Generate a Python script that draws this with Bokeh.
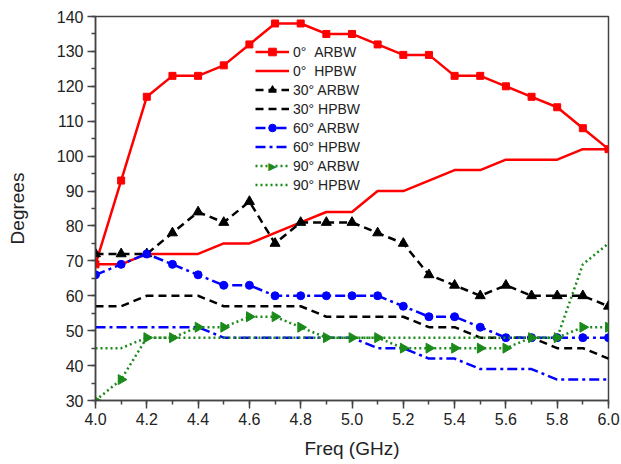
import math
from bokeh.plotting import figure
from bokeh.models import (SingleIntervalTicker, PrintfTickFormatter, Legend, LegendItem,
                          Range1d, Label)
from bokeh.embed import file_html
from bokeh.resources import INLINE

freq = [4.0, 4.1, 4.2, 4.3, 4.4, 4.5, 4.6, 4.7, 4.8, 4.9, 5.0,
        5.1, 5.2, 5.3, 5.4, 5.5, 5.6, 5.7, 5.8, 5.9, 6.0]

arbw_0 = [69, 93, 117, 123, 123, 126, 132, 138, 138, 135, 135, 132, 129, 129, 123, 123, 120, 117, 114, 108, 102]
hpbw_0 = [69, 69, 72, 72, 72, 75, 75, 78, 81, 84, 84, 90, 90, 93, 96, 96, 99, 99, 99, 102, 102]
arbw_30 = [72, 72, 72, 78, 84, 81, 87, 75, 81, 81, 81, 78, 75, 66, 63, 60, 63, 60, 60, 60, 57]
hpbw_30 = [57, 57, 60, 60, 60, 57, 57, 57, 57, 54, 54, 54, 54, 51, 51, 48, 48, 48, 45, 45, 42]
arbw_60 = [66, 69, 72, 69, 66, 63, 63, 60, 60, 60, 60, 60, 57, 54, 54, 51, 48, 48, 48, 48, 48]
hpbw_60 = [51, 51, 51, 51, 51, 48, 48, 48, 48, 48, 48, 45, 45, 42, 42, 39, 39, 39, 36, 36, 36]
arbw_90 = [30, 36, 48, 48, 51, 51, 54, 54, 51, 48, 48, 48, 45, 45, 45, 45, 45, 48, 48, 51, 51]
hpbw_90 = [45, 45, 48, 48, 48, 48, 48, 48, 48, 48, 48, 48, 48, 48, 48, 48, 48, 48, 48, 69, 75]

labels = ["0°\u00a0\u00a0ARBW", "0°\u00a0\u00a0HPBW", "30° ARBW", "30° HPBW",
          "60° ARBW", "60° HPBW", "90° ARBW", "90° HPBW"]

FONT = "Liberation Sans"

p = figure(width=621, height=464, output_backend="svg", toolbar_location=None,
           x_range=Range1d(4.0, 6.0), y_range=Range1d(30, 140),
           min_border_left=95, min_border_right=13, min_border_top=16, min_border_bottom=64)

p.xgrid.visible = False
p.ygrid.visible = False
p.outline_line_color = "#444444"
p.outline_line_width = 1.5
p.background_fill_color = "white"
p.border_fill_color = "white"

RED = "#ff0000"
BLK = "#000000"
BLU = "#0000ff"
GRN = "#1a8a1a"

items = []

r1 = p.line(freq, arbw_0, line_color=RED, line_width=2.5)
r1m = p.scatter(freq, arbw_0, marker="square", size=7, fill_color=RED, line_color=RED)
items.append(LegendItem(label=labels[0], renderers=[r1, r1m]))

r2 = p.line(freq, hpbw_0, line_color=RED, line_width=2.5)
items.append(LegendItem(label=labels[1], renderers=[r2]))

r3 = p.line(freq, arbw_30, line_color=BLK, line_width=2.5, line_dash="8 5")
r3m = p.scatter(freq, arbw_30, marker="triangle", size=10, fill_color=BLK, line_color=BLK)
items.append(LegendItem(label=labels[2], renderers=[r3, r3m]))

r4 = p.line(freq, hpbw_30, line_color=BLK, line_width=2.5, line_dash="8 5")
items.append(LegendItem(label=labels[3], renderers=[r4]))

r5 = p.line(freq, arbw_60, line_color=BLU, line_width=2.5, line_dash="10 4 3 4")
r5m = p.scatter(freq, arbw_60, marker="circle", size=8, fill_color=BLU, line_color=BLU)
items.append(LegendItem(label=labels[4], renderers=[r5, r5m]))

r6 = p.line(freq, hpbw_60, line_color=BLU, line_width=2.5, line_dash="10 4 3 4")
items.append(LegendItem(label=labels[5], renderers=[r6]))

r7 = p.line(freq, arbw_90, line_color=GRN, line_width=2.5, line_dash="2 3")
r7m = p.scatter(freq, arbw_90, marker="triangle", angle=-math.pi / 2, size=10,
                fill_color=GRN, line_color=GRN)
# legend shows only the dotted line; a right-pointing marker is overlaid below
items.append(LegendItem(label=labels[6], renderers=[r7]))

r8 = p.line(freq, hpbw_90, line_color=GRN, line_width=2.5, line_dash="2 3")
items.append(LegendItem(label=labels[7], renderers=[r8]))

LEG_X, LEG_Y, ROW_H, GLYPH_W = 160, 206, 19, 34
legend = Legend(items=items, location=(LEG_X, LEG_Y))
legend.background_fill_alpha = 0
legend.border_line_alpha = 0
legend.label_text_font = FONT
legend.label_text_font_size = "14px"
legend.label_text_color = "#222222"
legend.glyph_width = GLYPH_W
legend.glyph_height = ROW_H
legend.label_height = ROW_H
legend.label_standoff = 4
legend.spacing = 0
legend.padding = 0
legend.margin = 0
p.add_layout(legend, "center")

# right-pointing triangle for the "90° ARBW" legend entry
n_rows = len(items)
row_idx = 6
tri = Label(x=LEG_X + GLYPH_W / 2, y=LEG_Y + (n_rows - row_idx - 0.5) * ROW_H,
            x_units="screen", y_units="screen", text="\u25B6",
            text_font="DejaVu Sans", text_font_size="11px", text_color=GRN,
            text_align="center", text_baseline="middle", level="overlay")
p.add_layout(tri)

# axes
p.xaxis.ticker = SingleIntervalTicker(interval=0.2, num_minor_ticks=2)
p.xaxis.formatter = PrintfTickFormatter(format="%.1f")
p.yaxis.ticker = SingleIntervalTicker(interval=10, num_minor_ticks=2)

for ax in (p.xaxis[0], p.yaxis[0]):
    ax.axis_line_color = "#444444"
    ax.axis_line_width = 1.5
    ax.major_tick_line_color = "#444444"
    ax.major_tick_line_width = 1.5
    ax.minor_tick_line_color = "#444444"
    ax.minor_tick_line_width = 1.5
    ax.major_tick_out = 8
    ax.major_tick_in = 0
    ax.minor_tick_out = 4
    ax.minor_tick_in = 0
    ax.major_label_text_font = FONT
    ax.major_label_text_font_size = "16px"
    ax.major_label_text_color = "#222222"
    ax.axis_label_text_font = FONT
    ax.axis_label_text_font_size = "19px"
    ax.axis_label_text_font_style = "normal"
    ax.axis_label_text_color = "#222222"

p.xaxis.axis_label = "Freq (GHz)"
p.yaxis.axis_label = "Degrees"
p.xaxis.major_label_standoff = 4
p.yaxis.major_label_standoff = 4
p.xaxis.axis_label_standoff = 10
p.yaxis.axis_label_standoff = 26

html = file_html(p, INLINE)
open("out.html", "w").write(html)
